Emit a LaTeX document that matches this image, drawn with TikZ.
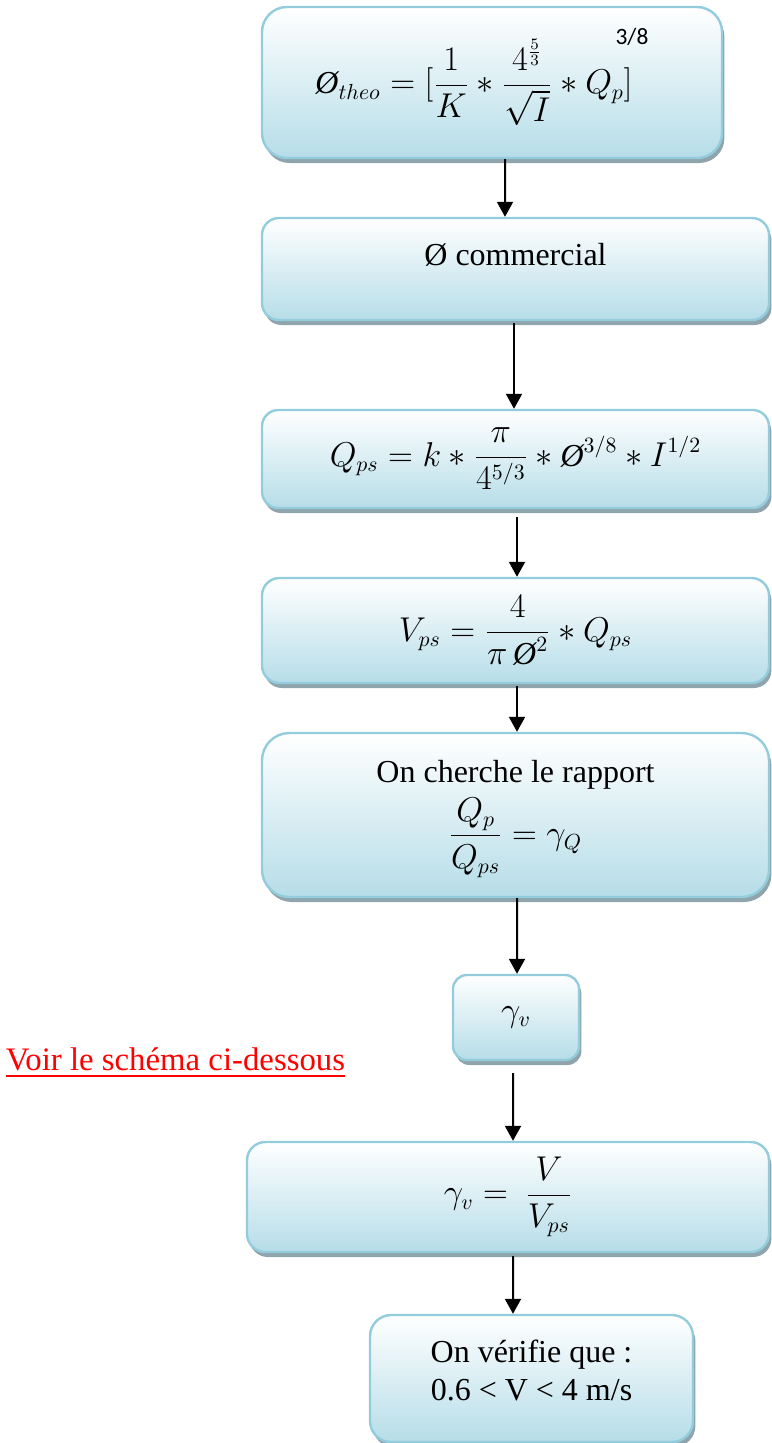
\documentclass[tikz,border=0pt]{standalone}
\usepackage{amsmath, amssymb}
\usepackage{fontspec}
\setmainfont{Liberation Serif}
\newfontfamily\expofont{Carlito}
\usepackage{tikz}
\usetikzlibrary{arrows.meta, shadows}
\usepackage{xcolor}
\definecolor{boxline}{HTML}{93CDDD}
\definecolor{boxbottom}{HTML}{B6DDE8}
\definecolor{boxshadow}{HTML}{8FA4AC}

\newcommand{\dia}{\text{\itshape Ø}}

\begin{document}
\begin{tikzpicture}[
    x=0.5bp, y=-0.5bp,
    stepbox/.style={draw=boxline, line width=1.2bp, top color=white, bottom color=boxbottom, align=center, inner sep=0pt, font=\fontsize{16bp}{20bp}\selectfont, drop shadow={shadow xshift=1.2bp, shadow yshift=-2.5bp, fill=boxshadow, opacity=1}},
    note/.style={text=red, inner sep=0pt, font=\fontsize{16.4bp}{20bp}\selectfont},
    arrow/.style={-{Triangle[width=8bp, length=7.5bp]}, line width=1bp}
]
\useasboundingbox (0,0) rectangle (771,1443);

\node[stepbox, minimum width=230bp, minimum height=75.5bp, rounded corners=12.5bp] (theo) at (492,82.5) {$\displaystyle \dia_{theo}=[\frac{1}{K}\ast\frac{4^{\frac{5}{3}}}{\sqrt{I}}\ast Q_p]$\hspace{18bp}};
\node[inner sep=0pt, font=\fontsize{11.7bp}{14bp}\expofont] (expo) at (632,37) {3/8};
\node[stepbox, minimum width=253.5bp, minimum height=51bp, rounded corners=8.5bp] (comm) at (515.5,269) {\raisebox{7bp}[\height][\depth]{Ø commercial}};
\node[stepbox, minimum width=253.5bp, minimum height=49bp, rounded corners=8.2bp] (qps) at (515.5,459) {$\displaystyle Q_{ps}=k\ast\frac{\pi}{4^{5/3}}\ast\dia^{3/8}\ast I^{1/2}$};
\node[stepbox, minimum width=253.5bp, minimum height=52.5bp, rounded corners=8.75bp] (vps) at (515.5,630.5) {$\displaystyle V_{ps}=\frac{4}{\pi\,\dia^2}\ast Q_{ps}$};
\node[stepbox, minimum width=253.5bp, minimum height=82bp, rounded corners=13.7bp] (rap) at (515.5,815) {\raisebox{-2bp}[\height][\depth]{\shortstack{On cherche le rapport\\[1bp] $\displaystyle\frac{Q_p}{Q_{ps}}=\gamma_Q$}}};
\node[stepbox, minimum width=63bp, minimum height=42.5bp, rounded corners=7bp] (gam) at (516,1017.5) {$\gamma_v$};
\node[note] (voir) at (175.5,1063) {\underline{Voir le schéma ci-dessous}};
\node[stepbox, minimum width=261bp, minimum height=55bp, rounded corners=9.2bp] (gvv) at (508,1197) {$\displaystyle\gamma_v=\ \frac{V}{V_{ps}}$};
\node[stepbox, minimum width=161.5bp, minimum height=63.5bp, rounded corners=10.6bp] (chk) at (531.5,1378.5) {\raisebox{4bp}[\height][\depth]{\shortstack{On vérifie que :\\[2bp] 0.6 < V < 4 m/s}}};

\draw[arrow] ([xshift=6.5bp]theo.south) -- ([xshift=-5.25bp]comm.north);
\draw[arrow] ([xshift=-0.75bp, yshift=-1bp]comm.south) -- ([xshift=-0.75bp]qps.north);
\draw[arrow] ([xshift=0.75bp, yshift=-4bp]qps.south) -- ([xshift=0.75bp]vps.north);
\draw[arrow] ([xshift=0.75bp, yshift=-1bp]vps.south) -- ([xshift=0.75bp]rap.north);
\draw[arrow] ([xshift=0.75bp]rap.south) -- ([xshift=0.5bp]gam.north);
\draw[arrow] ([xshift=-1.5bp, yshift=-6bp]gam.south) -- ([xshift=2.5bp]gvv.north);
\draw[arrow] ([xshift=2.5bp, yshift=-1.5bp]gvv.south) -- ([xshift=-9.25bp]chk.north);

\end{tikzpicture}
\end{document}
